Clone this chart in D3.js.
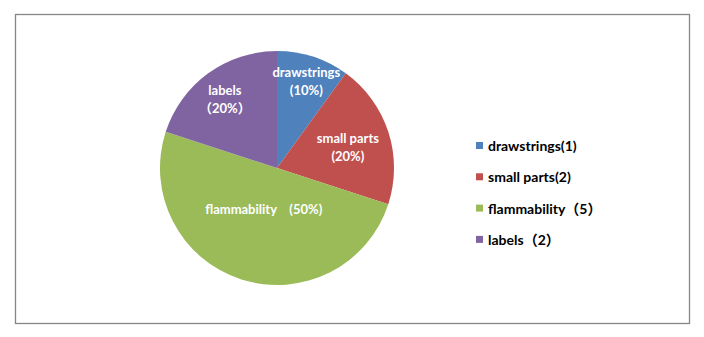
<!DOCTYPE html>
<html lang="en">
<head>
    <meta charset="UTF-8">
    <title>Pie</title>
    <script src="https://cdn.jsdelivr.net/npm/d3@7"></script>
    <style>
        html, body {
            margin: 0;
            padding: 0;
            background: #ffffff;
            overflow: hidden;
        }
        text {
            font-family: Lato, "Noto Sans CJK SC", sans-serif;
            font-weight: bold;
            white-space: pre;
        }
    </style>
</head>
<body>
</body>
<script>
    // data
    let categories = ['drawstrings', 'small parts', 'flammability', 'labels'];
    let values = [1, 2, 5, 2];
    let sliceLabels = [
        ['drawstrings', '(10%)'],
        ['small parts', '(20%)'],
        ['flammability    (50%)'],
        ['labels', '（20%）']
    ];
    let legendLabels = ['drawstrings(1)', 'small parts(2)', 'flammability（5）', 'labels（2）'];
    let colors = ['#4f81bd', '#c0504d', '#9bbb59', '#8064a2'];

    let width = 704;
    let height = 337;

    let svg = d3.select('body')
        .append('svg')
        .attr('width', width)
        .attr('height', height);

    // outer frame
    svg.append('rect')
        .attr('x', 15.5)
        .attr('y', 14.5)
        .attr('width', 674)
        .attr('height', 309)
        .attr('fill', '#ffffff')
        .attr('stroke', '#868686')
        .attr('stroke-width', 1.3);

    let cx = 277, cy = 168, r = 117;

    let pie = d3.pie().sort(null).value(d => d);
    let arcs = pie(values);
    let arc = d3.arc().innerRadius(0).outerRadius(r);

    let g = svg.append('g').attr('transform', `translate(${cx},${cy})`);

    g.selectAll('path')
        .data(arcs)
        .enter().append('path')
        .attr('d', arc)
        .attr('fill', (d, i) => colors[i]);

    // label placement: centroid on a label ring, nudged like the original
    let labelArc = d3.arc().innerRadius(r * 0.7).outerRadius(r * 0.7);
    let nudge = [[4, -9], [-7, 5], [12, -36], [-4, -2]];

    let labels = g.selectAll('.slice-label')
        .data(arcs)
        .enter().append('text')
        .classed('slice-label', true)
        .attr('fill', '#ffffff')
        .attr('font-size', '13px')
        .attr('text-anchor', 'middle')
        .attr('transform', (d, i) => {
            let c = labelArc.centroid(d);
            return `translate(${c[0] + nudge[i][0]},${c[1] + nudge[i][1]})`;
        });

    labels.each(function (d, i) {
        let lines = sliceLabels[i];
        let t = d3.select(this);
        lines.forEach((line, j) => {
            t.append('tspan')
                .attr('x', 0)
                .attr('y', (j - (lines.length - 1) / 2) * 18 + 4.5)
                .text(line);
        });
    });

    // legend
    let legend = svg.append('g').attr('transform', 'translate(476,146)');
    let item = legend.selectAll('.item')
        .data(categories)
        .enter().append('g')
        .classed('item', true)
        .attr('transform', (d, i) => `translate(0,${i * 31.3})`);

    item.append('rect')
        .attr('x', 0)
        .attr('y', -4)
        .attr('width', 7)
        .attr('height', 7)
        .attr('fill', (d, i) => colors[i]);

    item.append('text')
        .attr('x', 12)
        .attr('y', 5)
        .attr('font-size', '14px')
        .attr('fill', '#000000')
        .text((d, i) => legendLabels[i]);
</script>
</html>
